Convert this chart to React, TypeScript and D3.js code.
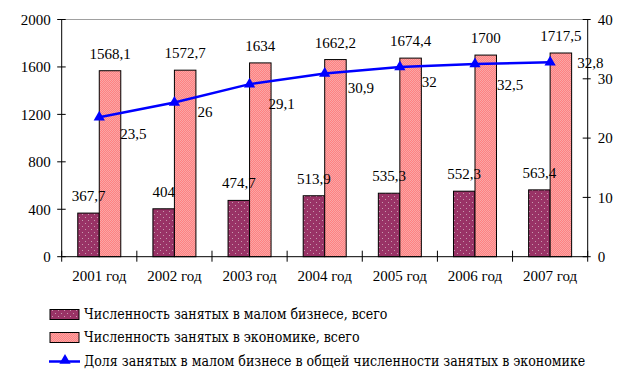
import React from "react";
import * as d3 from "d3";

const categories = ["2001 год", "2002 год", "2003 год", "2004 год", "2005 год", "2006 год", "2007 год"];
const smallBusiness = [367.7, 404, 474.7, 513.9, 535.3, 552.3, 563.4];
const economy = [1568.1, 1572.7, 1634, 1662.2, 1674.4, 1700, 1717.5];
const share = [23.5, 26, 29.1, 30.9, 32, 32.5, 32.8];
const leftTicks = [0, 400, 800, 1200, 1600, 2000];
const rightTicks = [0, 10, 20, 30, 40];
const legendLabels = [
  "Численность занятых в малом бизнесе, всего",
  "Численность занятых в экономике, всего",
  "Доля занятых в малом бизнесе в общей численности занятых в экономике",
];
// manual label nudges for the line labels (dx, dy from the point)
const shareLabelNudge: [number, number][] = [
  [21, 22], [23, 14], [19, 25], [23, 20], [22, 20], [22, 26], [27, 6],
];

const fmt = (v: number) => String(v).replace(".", ",");

const W = 632, H = 386;
const L = 61.7, R = 587.7, T = 19.5, B = 256.7;
const NUMFONT = "Liberation Serif, DejaVu Serif Condensed, serif";
const CYRFONT = "DejaVu Serif Condensed, serif";
const FS = 15;

export default function App() {
  const x = d3.scaleBand<string>().domain(categories).range([L, R]).paddingInner(0).paddingOuter(0);
  const bw = x.bandwidth();
  const barW = 21.5;
  const pad = (bw - 2 * barW) / 2;
  const yL = d3.scaleLinear().domain([0, 2000]).range([B, T]);
  const yR = d3.scaleLinear().domain([0, 40]).range([B, T]);

  const line = d3.line<number>()
    .x((_, i) => (x(categories[i]) as number) + bw / 2)
    .y((d) => yR(d));

  const tri = d3.symbol().type(d3.symbolTriangle).size(55)();

  const boundaries = d3.range(categories.length + 1).map((i) => L + i * bw);

  return (
    <svg width={W} height={H} style={{ position: "absolute", left: 0, top: 0, background: "#fff", fontFamily: NUMFONT, fontSize: FS }}>
      <defs>
        <pattern id="dotsDark" width="6" height="6" patternUnits="userSpaceOnUse">
          <rect width="6" height="6" fill="#993366" />
          <rect x="1" y="1" width="1" height="1" fill="#c79aae" />
          <rect x="4" y="4" width="1" height="1" fill="#c79aae" />
        </pattern>
        <pattern id="checkPink" width="2" height="2" patternUnits="userSpaceOnUse">
          <rect width="2" height="2" fill="#FF8080" />
          <rect x="0" y="0" width="1" height="1" fill="#F9A6A6" />
          <rect x="1" y="1" width="1" height="1" fill="#F9A6A6" />
        </pattern>
      </defs>

      {/* top border of plot area */}
      <line x1={L} x2={R} y1={T} y2={T} stroke="#a0a0a0" strokeWidth={1} />

      {/* bars */}
      {categories.map((c, i) => {
        const x0 = (x(c) as number) + pad;
        return (
          <g key={c}>
            <rect x={x0} y={yL(smallBusiness[i])} width={barW} height={B - yL(smallBusiness[i])}
              fill="url(#dotsDark)" stroke="#000" strokeWidth={1} />
            <rect x={x0 + barW} y={yL(economy[i])} width={barW} height={B - yL(economy[i])}
              fill="url(#checkPink)" stroke="#000" strokeWidth={1} />
            <text x={x0 + barW / 2} y={yL(smallBusiness[i]) - 12} textAnchor="middle" fill="#000">
              {fmt(smallBusiness[i])}
            </text>
            <text x={x0 + barW * 1.5} y={yL(economy[i]) - 12} textAnchor="middle" fill="#000">
              {fmt(economy[i])}
            </text>
          </g>
        );
      })}

      {/* axes */}
      <line x1={L} x2={L} y1={T} y2={B} stroke="#000" />
      <line x1={R} x2={R} y1={T} y2={B} stroke="#000" />
      <line x1={L} x2={R} y1={B} y2={B} stroke="#000" />
      {leftTicks.map((t) => (
        <g key={"l" + t}>
          <line x1={L - 4.5} x2={L + 4} y1={yL(t)} y2={yL(t)} stroke="#000" />
          <text x={L - 11} y={yL(t)} dy="0.35em" textAnchor="end">{t}</text>
        </g>
      ))}
      {rightTicks.map((t) => (
        <g key={"r" + t}>
          <line x1={R - 5} x2={R + 3} y1={yR(t)} y2={yR(t)} stroke="#000" />
          <text x={R + 10} y={yR(t)} dy="0.35em" textAnchor="start">{t}</text>
        </g>
      ))}
      {boundaries.map((bx, i) => (
        <line key={"b" + i} x1={bx} x2={bx} y1={B - 6} y2={B + 5} stroke="#000" />
      ))}
      {categories.map((c) => (
        <text key={"c" + c} x={(x(c) as number) + bw / 2} y={B + 24} textAnchor="middle">{c}</text>
      ))}

      {/* line series */}
      <path d={line(share) || ""} fill="none" stroke="#0000FF" strokeWidth={2.5} />
      {share.map((v, i) => {
        const px = (x(categories[i]) as number) + bw / 2;
        const py = yR(v);
        return (
          <g key={"s" + i}>
            <path d={tri || ""} transform={`translate(${px},${py})`} fill="#0000FF" />
            <text x={px + shareLabelNudge[i][0]} y={py + shareLabelNudge[i][1]} fill="#000">{fmt(v)}</text>
          </g>
        );
      })}

      {/* legend */}
      <g style={{ fontFamily: CYRFONT, fontSize: 14 }}>
        <rect x={50} y={309.5} width={29} height={10} fill="url(#dotsDark)" stroke="#000" />
        <text x={84} y={314.5} dy="0.35em">{legendLabels[0]}</text>
        <rect x={50} y={332.5} width={29} height={10} fill="url(#checkPink)" stroke="#000" />
        <text x={84} y={337.5} dy="0.35em">{legendLabels[1]}</text>
        <line x1={49} x2={80} y1={361.5} y2={361.5} stroke="#0000FF" strokeWidth={2.5} />
        <path d={tri || ""} transform="translate(65,360.5)" fill="#0000FF" />
        <text x={84} y={361} dy="0.35em">{legendLabels[2]}</text>
      </g>
    </svg>
  );
}
